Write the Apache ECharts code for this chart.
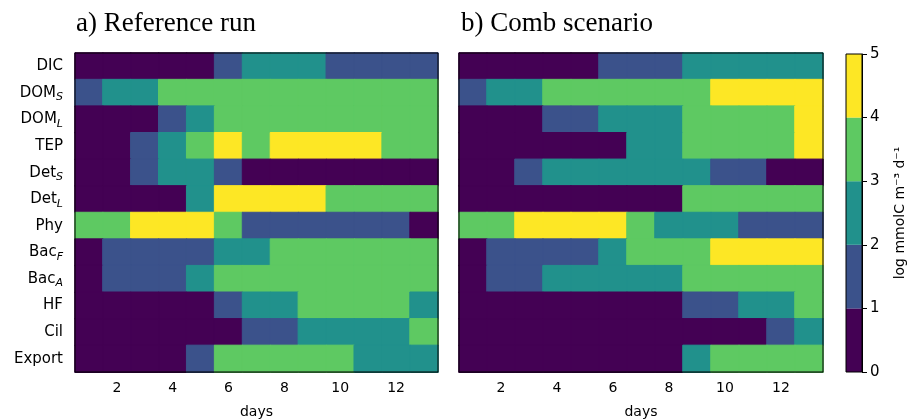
<!DOCTYPE html>
<html>
<head>
<meta charset="utf-8">
<script src="https://cdn.jsdelivr.net/npm/echarts@6/dist/echarts.min.js"></script>
<style>
html, body { margin: 0; padding: 0; background: #fff; }
#chart { width: 908px; height: 420px; }
</style>
</head>
<body>
<div id="chart"></div>
<script>
// days on the x axis
var days = ['1', '2', '3', '4', '5', '6', '7', '8', '9', '10', '11', '12', '13'];
// rows, top to bottom; [name, subscript]
var rowNames = [['DIC', ''], ['DOM', 'S'], ['DOM', 'L'], ['TEP', ''], ['Det', 'S'], ['Det', 'L'],
    ['Phy', ''], ['Bac', 'F'], ['Bac', 'A'], ['HF', ''], ['Cil', ''], ['Export', '']];

// binned log flux level (0..4 => 0-1, 1-2, ... 4-5) per row
var refRun = [
    [0, 0, 0, 0, 0, 1, 2, 2, 2, 1, 1, 1, 1],
    [1, 2, 2, 3, 3, 3, 3, 3, 3, 3, 3, 3, 3],
    [0, 0, 0, 1, 2, 3, 3, 3, 3, 3, 3, 3, 3],
    [0, 0, 1, 2, 3, 4, 3, 4, 4, 4, 4, 3, 3],
    [0, 0, 1, 2, 2, 1, 0, 0, 0, 0, 0, 0, 0],
    [0, 0, 0, 0, 2, 4, 4, 4, 4, 3, 3, 3, 3],
    [3, 3, 4, 4, 4, 3, 1, 1, 1, 1, 1, 1, 0],
    [0, 1, 1, 1, 1, 2, 2, 3, 3, 3, 3, 3, 3],
    [0, 1, 1, 1, 2, 3, 3, 3, 3, 3, 3, 3, 3],
    [0, 0, 0, 0, 0, 1, 2, 2, 3, 3, 3, 3, 2],
    [0, 0, 0, 0, 0, 0, 1, 1, 2, 2, 2, 2, 3],
    [0, 0, 0, 0, 1, 3, 3, 3, 3, 3, 2, 2, 2]
];
var combRun = [
    [0, 0, 0, 0, 0, 1, 1, 1, 2, 2, 2, 2, 2],
    [1, 2, 2, 3, 3, 3, 3, 3, 3, 4, 4, 4, 4],
    [0, 0, 0, 1, 1, 2, 2, 2, 3, 3, 3, 3, 4],
    [0, 0, 0, 0, 0, 0, 2, 2, 3, 3, 3, 3, 4],
    [0, 0, 1, 2, 2, 2, 2, 2, 2, 1, 1, 0, 0],
    [0, 0, 0, 0, 0, 0, 0, 0, 3, 3, 3, 3, 3],
    [3, 3, 4, 4, 4, 4, 3, 2, 2, 2, 1, 1, 1],
    [0, 1, 1, 1, 1, 2, 3, 3, 3, 4, 4, 4, 4],
    [0, 1, 1, 2, 2, 2, 2, 2, 3, 3, 3, 3, 3],
    [0, 0, 0, 0, 0, 0, 0, 0, 1, 1, 2, 2, 3],
    [0, 0, 0, 0, 0, 0, 0, 0, 0, 0, 0, 1, 2],
    [0, 0, 0, 0, 0, 0, 0, 0, 2, 3, 3, 3, 3]
];

var levels = [0, 1, 2, 3, 4];
var levelColors = ['#440154', '#3b528b', '#21918c', '#5ec962', '#fde725'];
var cbarTicks = [0, 1, 2, 3, 4, 5];

// cells coloured by level; border in the same colour hides anti-alias seams
function toCells(rows) {
    var out = [];
    rows.forEach(function (row, r) {
        row.forEach(function (v, d) {
            var c = levelColors[levels.indexOf(v)];
            out.push({ value: [d, r, v], itemStyle: { color: c, borderColor: c, borderWidth: 1 } });
        });
    });
    return out;
}

var font = 'DejaVu Sans';
var rowLabels = rowNames.map(function (n, i) { return String(i); });

function xAxisFor(grid) {
    return {
        type: 'category', gridIndex: grid, data: days,
        name: 'days', nameLocation: 'middle', nameGap: 33,
        nameTextStyle: { fontFamily: font, fontSize: 14, color: '#000' },
        axisLine: { lineStyle: { color: '#000', width: 1 } },
        axisTick: { alignWithLabel: true, length: 5, lineStyle: { color: '#000' },
            interval: function (i) { return i % 2 === 1; } },
        axisLabel: { fontFamily: font, fontSize: 14, color: '#000', margin: 9,
            interval: function (i) { return i % 2 === 1; } },
        splitLine: { show: false }
    };
}

function yAxisFor(grid, showLabels) {
    return {
        type: 'category', gridIndex: grid, data: rowLabels, inverse: true,
        axisLine: { lineStyle: { color: '#000', width: 1 } },
        axisTick: { alignWithLabel: true, length: 5, lineStyle: { color: '#000' } },
        axisLabel: {
            show: showLabels, margin: 12,
            formatter: function (v) {
                var n = rowNames[+v];
                return n[1] ? '{b|' + n[0] + '}{s|' + n[1] + '}' : '{b|' + n[0] + '}';
            },
            rich: {
                b: { fontFamily: font, fontSize: 15, color: '#000', lineHeight: 22, verticalAlign: 'middle' },
                s: { fontFamily: font, fontSize: 11, fontStyle: 'italic', color: '#000', lineHeight: 22,
                     verticalAlign: 'bottom', padding: [0, 0, 1, 0] }
            }
        },
        splitLine: { show: false }
    };
}

var frame = { show: true, borderColor: '#000', borderWidth: 1, backgroundColor: 'transparent', z: 10,
    containLabel: false, outerBoundsMode: 'none' };

var cbarSeries = levels.map(function (lv, i) {
    return {
        type: 'bar', xAxisIndex: 2, yAxisIndex: 2, stack: 'cb',
        barWidth: '100%', silent: true,
        itemStyle: { color: levelColors[i] },
        data: [cbarTicks[i + 1] - cbarTicks[i]]
    };
});

var chart = echarts.init(document.getElementById('chart'), null, { renderer: 'canvas' });
chart.setOption({
    animation: false,
    backgroundColor: '#fff',
    title: [
        { text: 'a) Reference run', left: 71, top: 5,
          textStyle: { fontFamily: 'Liberation Serif', fontSize: 27, fontWeight: 'normal', color: '#000' } },
        { text: 'b) Comb scenario', left: 456, top: 5,
          textStyle: { fontFamily: 'Liberation Serif', fontSize: 27, fontWeight: 'normal', color: '#000' } }
    ],
    grid: [
        Object.assign({ left: 75, top: 53, width: 363, height: 319 }, frame),
        Object.assign({ left: 459, top: 53, width: 364, height: 319 }, frame),
        Object.assign({ left: 846, top: 54, width: 16, height: 318 }, frame)
    ],
    xAxis: [
        xAxisFor(0),
        xAxisFor(1),
        { type: 'category', gridIndex: 2, data: ['cb'], show: false }
    ],
    yAxis: [
        yAxisFor(0, true),
        yAxisFor(1, false),
        {
            type: 'value', gridIndex: 2, position: 'right', min: 0, max: 5, interval: 1,
            name: 'log mmolC m\u207B\u00B3 d\u207B\u00B9', nameLocation: 'middle', nameRotate: 90, nameGap: 31,
            nameTextStyle: { fontFamily: font, fontSize: 14, color: '#000' },
            axisLine: { show: true, lineStyle: { color: '#000' } },
            axisTick: { show: true, length: 5, lineStyle: { color: '#000' } },
            axisLabel: { fontFamily: font, fontSize: 15, color: '#000', margin: 8 },
            splitLine: { show: false }
        }
    ],
    series: [
        { type: 'heatmap', xAxisIndex: 0, yAxisIndex: 0, data: toCells(refRun) },
        { type: 'heatmap', xAxisIndex: 1, yAxisIndex: 1, data: toCells(combRun) }
    ].concat(cbarSeries)
});
</script>
</body>
</html>
